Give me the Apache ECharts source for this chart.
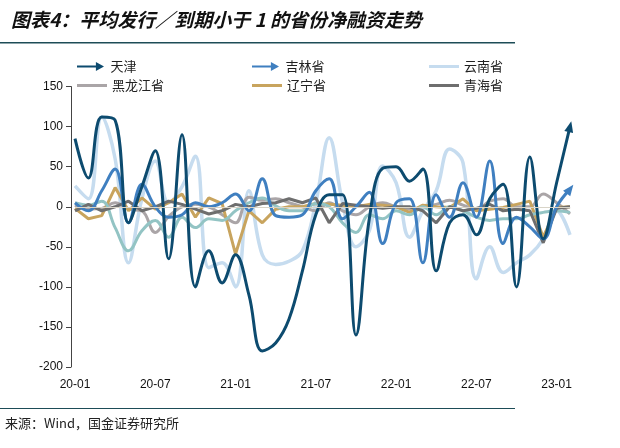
<!DOCTYPE html>
<html>
<head>
<meta charset="utf-8">
<script src="https://cdn.jsdelivr.net/npm/echarts@6/dist/echarts.min.js"></script>
<style>
  html, body { margin: 0; padding: 0; background: #fff; }
  #main { width: 620px; height: 448px; }
</style>
</head>
<body>
<div id="main"></div>
<script>
// 月份 20-01 ~ 23-02
const months = ['20-01','20-02','20-03','20-04','20-05','20-06','20-07','20-08','20-09','20-10','20-11','20-12',
  '21-01','21-02','21-03','21-04','21-05','21-06','21-07','21-08','21-09','21-10','21-11','21-12',
  '22-01','22-02','22-03','22-04','22-05','22-06','22-07','22-08','22-09','22-10','22-11','22-12',
  '23-01','23-02']

// 各省净融资（亿元）
const tianjin = [85, 36, 112, 108, -20, 25, 70, -65, 90, -100, -55, -95, -60, -110, -180, -170, -140, -80, -10, 15, 15, -160, -15, 48, 50, 32, 47, -80, -20, -10, -35, 10, 28, -100, 62, -40, 30, 100]
const jilin = [5, -5, 20, 47, -20, 28, 0, -13, -10, 5, 0, 5, 16, -5, 35, -11, -13, -10, 20, 35, -15, 0, 18, -46, 5, 10, -70, 15, -13, 30, -13, 57, -46, -13, -25, -40, 0, 22]
const yunnan = [26, 10, 112, 60, -70, 10, 57, 5, 25, 63, -76, -70, -100, 20, -60, -72, -68, -55, 5, 86, 5, -50, -30, 51, 30, -38, -5, 20, 72, 55, -90, -50, -82, -70, -60, -40, -5, -35]
const heilongjiang = [2, -3, -2, 5, -3, -5, -32, -12, 0, 3, 0, -10, -20, 12, 8, 10, 5, 0, -5, 5, -5, -10, 0, 5, 0, -3, 0, 3, 8, 2, -3, 7, 10, 0, 0, 16, 5, -9]
const liaoning = [-2, -15, -11, 24, -5, 11, -3, 5, 16, -13, 11, 4, -59, -5, -20, -3, 0, 0, 4, 3, 2, 0, 3, 2, 0, -7, 2, 0, -1, 10, -5, -3, -1, 3, 7, -38, -1, 0]
const qinghai = [-5, 3, -5, 0, 7, -5, 0, 7, 3, -3, -9, -5, 3, 0, 4, 5, 10, 5, 11, -20, 4, 2, 0, -2, 0, 0, -5, -20, 0, -5, -2, 3, -5, -3, -5, -45, -2, 0]
// 图中未列入图例的一条线
const other = [5, 2, 7, -26, -55, -30, -17, -38, -13, -26, -15, -17, -5, 5, 11, 1, -5, -5, 4, 0, -20, -32, -10, -15, -5, -10, 0, -10, 0, -5, -13, -17, -15, -15, -10, -7, -5, -7]

const FONT = 'Noto Sans CJK SC'
const arrowIcon = 'path://M0,4 L21,4 L21,0 L30,5 L21,10 L21,6 L0,6 Z'

let chart = echarts.init(document.getElementById('main'))

function arrowData (vals, rot) {
  let d = vals.slice()
  let n = d.length
  d[n - 1] = { value: vals[n - 1], symbol: 'triangle', symbolSize: [9, 11], symbolRotate: rot }
  return d
}

function legendAt (name, left, top, icon, h) {
  return {
    data: [{ name: name, icon: icon }],
    left: left, top: top,
    itemWidth: 30, itemHeight: h, itemGap: 0,
    textStyle: { fontFamily: FONT, fontSize: 13, color: '#222' },
    itemStyle: { borderWidth: 0 }
  }
}

let option = {
  animation: false,
  backgroundColor: '#fff',
  title: {
    text: '图表4：平均发行／到期小于 1 的省份净融资走势',
    left: 6, top: 5,
    textStyle: { fontFamily: FONT, fontSize: 19, fontWeight: 'bold', fontStyle: 'italic', color: '#111' }
  },
  graphic: [
    { type: 'rect', shape: { x: 0, y: 42, width: 515, height: 1.5 }, style: { fill: '#1d4c57' } },
    { type: 'rect', shape: { x: 0, y: 408, width: 515, height: 1 }, style: { fill: '#1d4c57' } },
    { type: 'text', left: 5, top: 417, style: { text: '来源：Wind，国金证券研究所', font: '13px "' + FONT + '"', fill: '#222' } }
  ],
  legend: [
    legendAt('天津', 72, 55, arrowIcon, 9),
    legendAt('吉林省', 247, 55, arrowIcon, 9),
    legendAt('云南省', 424, 55, 'rect', 3),
    legendAt('黑龙江省', 72, 74, 'rect', 3),
    legendAt('辽宁省', 247, 74, 'rect', 3),
    legendAt('青海省', 424, 74, 'rect', 3)
  ],
  grid: { left: 75, right: 50, top: 86.6, bottom: 81 },
  xAxis: {
    type: 'category',
    data: months,
    boundaryGap: false,
    axisLine: { show: false },
    axisTick: { show: false },
    axisLabel: { interval: 5, margin: 12, fontFamily: 'Liberation Sans', fontSize: 12, color: '#111' }
  },
  yAxis: {
    type: 'value',
    min: -200, max: 150, interval: 50,
    offset: 4,
    axisLine: { show: true, lineStyle: { color: '#444', width: 1 } },
    axisTick: { show: true, length: 5, lineStyle: { color: '#444' } },
    splitLine: { show: false },
    axisLabel: { margin: 8, fontFamily: 'Liberation Sans', fontSize: 12, color: '#111' }
  },
  series: [
    {
      name: '云南省', type: 'line', data: yunnan, smooth: 0.4, symbol: 'none',
      lineStyle: { color: '#c6dcef', width: 3.5 }, itemStyle: { color: '#c6dcef' },
      markLine: {
        silent: true, symbol: 'none', label: { show: false },
        lineStyle: { color: '#d8d4c8', width: 1, type: 'solid' },
        data: [{ yAxis: 0 }]
      }
    },
    {
      name: '黑龙江省', type: 'line', data: heilongjiang, smooth: 0.4, symbol: 'none',
      lineStyle: { color: '#aaa5a7', width: 3 }, itemStyle: { color: '#aaa5a7' }
    },
    {
      name: '辽宁省', type: 'line', data: liaoning, symbol: 'none',
      lineStyle: { color: '#c8a45e', width: 3 }, itemStyle: { color: '#c8a45e' }
    },
    {
      name: '其他', type: 'line', data: other, smooth: 0.4, symbol: 'none',
      lineStyle: { color: '#93c4c4', width: 3 }, itemStyle: { color: '#93c4c4' }
    },
    {
      name: '青海省', type: 'line', data: qinghai, symbol: 'none',
      lineStyle: { color: '#6e6e6e', width: 3 }, itemStyle: { color: '#6e6e6e' }
    },
    {
      id: 'jl', name: '吉林省', type: 'line', data: jilin, smooth: 0.4, symbol: 'none', showAllSymbol: true,
      lineStyle: { color: '#3f7fc0', width: 3 }, itemStyle: { color: '#3f7fc0' }
    },
    {
      id: 'tj', name: '天津', type: 'line', data: tianjin, smooth: 0.4, symbol: 'none', showAllSymbol: true,
      lineStyle: { color: '#0d4b6f', width: 3 }, itemStyle: { color: '#0d4b6f' }
    }
  ]
}
chart.setOption(option)

// 末端箭头方向按最后两点的像素位置计算
function arrowRotate (id, vals) {
  let n = vals.length
  let p1 = chart.convertToPixel({ seriesId: id }, [n - 2, vals[n - 2]])
  let p2 = chart.convertToPixel({ seriesId: id }, [n - 1, vals[n - 1]])
  return (-Math.PI / 2 - Math.atan2(p2[1] - p1[1], p2[0] - p1[0])) * 180 / Math.PI
}

chart.setOption({
  series: [
    { id: 'jl', data: arrowData(jilin, arrowRotate('jl', jilin)) },
    { id: 'tj', data: arrowData(tianjin, arrowRotate('tj', tianjin)) }
  ]
})
</script>
</body>
</html>
